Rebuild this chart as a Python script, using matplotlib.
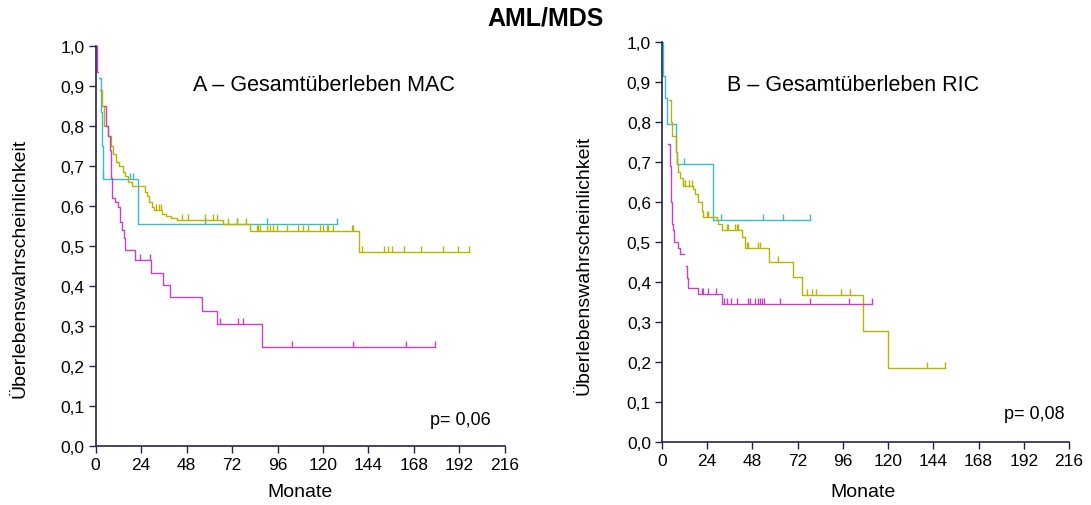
import numpy as np
import matplotlib
matplotlib.use("Agg")
import matplotlib.pyplot as plt
from matplotlib import font_manager
from matplotlib.markers import TICKUP

# --- data (months, survival probability) ---
# MAC panel
mac_mag_t = [0.5, 0.5, 1.0, 4.4, 5.4, 6.5, 7.5, 8.3, 8.6, 10.2, 11.8, 12.8, 13.9, 15.0, 15.5,
             20.7, 29.2, 35.5, 39.2, 56.3, 63.9, 87.8, 179.1]
mac_mag_s = [1.0, 0.935, np.nan, 0.85, 0.80, 0.775, 0.74, 0.67, 0.62, 0.61, 0.597, 0.56, 0.54,
             0.52, 0.49, 0.465, 0.432, 0.402, 0.372, 0.338, 0.305, 0.248, 0.248]
mac_mag_cens = [23.5, 28.6, 65.8, 75.4, 78.0, 103.5, 136.0, 163.7, 179.1]

mac_cyan_t = [2.0, 2.8, 3.2, 4.0, 22.2, 127.2]
mac_cyan_s = [0.92, 0.834, 0.75, 0.667, 0.556, 0.556]
mac_cyan_cens = [4.0, 18.1, 19.5, 57.7, 74.4, 90.3, 127.2]

mac_yel_t = [2.2, 3.2, 4.5, 6.5, 8.0, 9.0, 10.5, 12.5, 14.5, 15.5, 17.0, 19.0, 26.0, 27.0, 28.0,
             29.5, 31.0, 35.0, 37.0, 40.0, 42.8, 67.0, 81.5, 139.2, 197.3]
mac_yel_s = [0.89, 0.85, 0.80, 0.775, 0.75, 0.73, 0.71, 0.70, 0.685, 0.675, 0.66, 0.65, 0.635,
             0.625, 0.61, 0.597, 0.59, 0.58, 0.575, 0.571, 0.566, 0.555, 0.537, 0.486, 0.486]
mac_yel_cens = [32.0, 33.3, 34.5, 45.6, 48.8, 57.5, 61.9, 64.0, 70.0, 74.5, 79.4,
                85.0, 85.9, 86.8, 90.3, 92.0, 93.5, 95.9, 100.9, 107.0, 109.6, 112.3, 118.4,
                120.2, 121.9, 122.8, 125.1, 135.2, 136.0,
                140.4, 152.2, 154.5, 156.3, 162.9, 171.8, 183.5, 191.4, 197.3]

# RIC panel
ric_mag_t = [3.2, 4.0, 4.4, 4.6, 5.0, 5.4, 5.9, 6.5, 8.7, 9.5, 11.8, 12.7, 13.2, 13.8, 19.3,
             31.7, 111.3]
ric_mag_s = [0.745, 0.725, 0.69, 0.65, 0.60, 0.545, 0.53, 0.50, 0.485, 0.47, np.nan, 0.44,
             0.41, 0.385, 0.37, 0.345, 0.345]
ric_mag_cens = [21.1, 21.9, 24.6, 28.7, 33.0, 34.4, 36.5, 39.7, 45.9, 46.8, 49.5, 50.7, 52.2,
                53.1, 53.9, 62.8, 78.3, 99.5, 111.3]

ric_cyan_t = [0.5, 0.7, 1.6, 2.5, 7.4, 8.1, 27.2, 78.3]
ric_cyan_s = [1.0, 0.915, 0.86, 0.795, 0.725, 0.695, 0.556, 0.556]
ric_cyan_cens = [8.1, 11.8, 31.3, 53.8, 64.4, 78.3]

ric_yel_t = [3.7, 4.8, 5.5, 7.5, 7.8, 8.5, 9.6, 11.0, 16.6, 17.5, 19.3, 21.1, 21.9, 29.0,
             29.9, 31.7, 42.3, 44.0, 57.0, 69.7, 74.2, 106.8, 120.1, 150.2]
ric_yel_s = [0.855, 0.80, 0.765, 0.725, 0.695, 0.675, 0.66, 0.641, 0.633, 0.62, 0.60, 0.578,
             0.563, 0.556, 0.545, 0.53, 0.512, 0.485, 0.45, 0.412, 0.368, 0.278, 0.185, 0.185]
ric_yel_cens = [11.3, 12.4, 14.1, 15.9, 23.7, 24.6, 34.3, 35.2, 38.7, 39.6, 40.5, 45.0, 45.8,
                51.1, 52.0, 61.7, 76.8, 79.4, 81.7, 94.8, 99.8, 140.8, 150.2]

x_ticks = np.arange(0, 217, 24)
y_ticks = np.round(np.arange(0, 1.01, 0.1), 1)

MAGENTA = '#C840C8'
CYAN = '#3CB8D0'
YELLOW = '#B8B400'
AXCOL = '#22224A'

names = [f.name for f in font_manager.fontManager.ttflist]
FONT = 'Liberation Sans Narrow' if 'Liberation Sans Narrow' in names else 'Liberation Sans'
plt.rcParams['font.family'] = [FONT, 'DejaVu Sans']


def step_value(t, s, x):
    # survival value at time x (step function, right-continuous)
    val = s[0]
    for ti, si in zip(t, s):
        if ti <= x and not np.isnan(si):
            val = si
    return val


def km(ax, t, s, cens, color):
    ax.plot(t, s, drawstyle='steps-post', color=color, lw=1.0)
    cy = [step_value(t, s, c) for c in cens]
    ax.plot(cens, cy, ls='none', marker=TICKUP, ms=4, mew=1.0, color=color)


def style(ax):
    ax.set_xlim(0, 216)
    ax.set_ylim(0, 1.0)
    ax.spines['top'].set_visible(False)
    ax.spines['right'].set_visible(False)
    for sp in ('left', 'bottom'):
        ax.spines[sp].set_color(AXCOL)
        ax.spines[sp].set_linewidth(1.2)
    ax.set_xticks(x_ticks)
    ax.set_xticklabels([str(v) for v in x_ticks])
    ax.set_yticks(y_ticks)
    ax.set_yticklabels([f"{v:.1f}".replace('.', ',') for v in y_ticks])
    ax.tick_params(direction='out', length=5, width=1.0, color=AXCOL, labelsize=12.5, pad=3)


fig = plt.figure(figsize=(10.91, 5.06), dpi=100)
ax1 = fig.add_axes([0.0877, 0.1166, 0.375, 0.7905])
ax2 = fig.add_axes([0.6068, 0.1245, 0.373, 0.7905])

km(ax1, mac_cyan_t, mac_cyan_s, mac_cyan_cens, CYAN)
km(ax1, mac_yel_t, mac_yel_s, mac_yel_cens, YELLOW)
km(ax1, mac_mag_t, mac_mag_s, mac_mag_cens, MAGENTA)

km(ax2, ric_cyan_t, ric_cyan_s, ric_cyan_cens, CYAN)
km(ax2, ric_yel_t, ric_yel_s, ric_yel_cens, YELLOW)
km(ax2, ric_mag_t, ric_mag_s, ric_mag_cens, MAGENTA)

for ax in (ax1, ax2):
    style(ax)

ax1.text(0.558, 0.905, 'A – Gesamtüberleben MAC', transform=ax1.transAxes,
         ha='center', va='center', fontsize=15.5)
ax2.text(0.47, 0.895, 'B – Gesamtüberleben RIC', transform=ax2.transAxes,
         ha='center', va='center', fontsize=15.5)
ax1.text(0.891, 0.0675, 'p= 0,06', transform=ax1.transAxes, ha='center', va='center', fontsize=13)
ax2.text(0.916, 0.0725, 'p= 0,08', transform=ax2.transAxes, ha='center', va='center', fontsize=13)

fig.text(546 / 1091, 1 - 18 / 506, 'AML/MDS', ha='center', va='center',
         fontsize=18, fontweight='bold')
fig.text(300 / 1091, 1 - 493 / 506, 'Monate', ha='center', va='center', fontsize=14)
fig.text(863 / 1091, 1 - 493 / 506, 'Monate', ha='center', va='center', fontsize=14)
fig.text(20 / 1091, 1 - 268 / 506, 'Überlebenswahrscheinlichkeit', rotation=90,
         ha='center', va='center', fontsize=14)
fig.text(584 / 1091, 1 - 265 / 506, 'Überlebenswahrscheinlichkeit', rotation=90,
         ha='center', va='center', fontsize=14)

fig.savefig('out.png', dpi=100)
